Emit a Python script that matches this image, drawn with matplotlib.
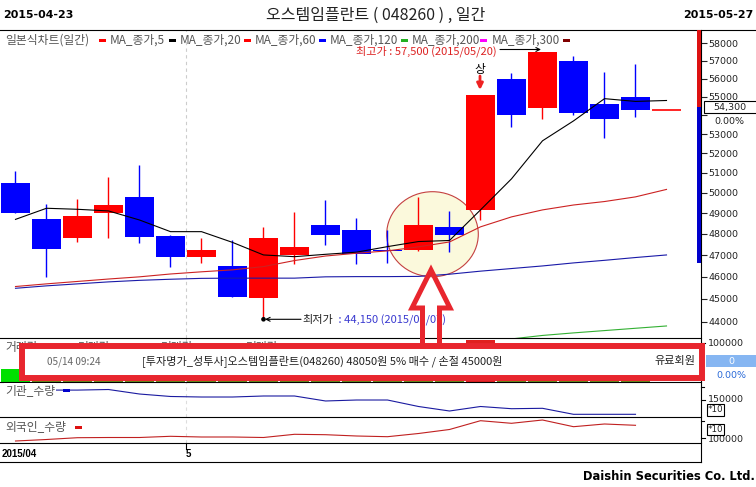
import numpy as np
import matplotlib
matplotlib.use('Agg')
import matplotlib.pyplot as plt
from matplotlib.patches import Rectangle, Ellipse, Polygon, FancyArrowPatch, Circle
from matplotlib.lines import Line2D
from matplotlib.transforms import Affine2D
from matplotlib.ticker import NullLocator

plt.rcParams['font.family'] = ['Noto Sans CJK KR', 'DejaVu Sans']

# ---------------- data ----------------
dates = ['04/23', '04/24', '04/27', '04/28', '04/29', '04/30', '05/04', '05/06', '05/07', '05/08', '05/11',
         '05/12', '05/13', '05/14', '05/15', '05/18', '05/19', '05/20', '05/21', '05/22', '05/26', '05/27']
opens = [50500, 48700, 47800, 49000, 49800, 47900, 46900, 46500, 45050, 47000, 48450,
         48200, 47250, 47250, 48350, 49150, 56000, 54400, 57000, 54600, 55000, 54300]
highs = [51100, 49450, 49700, 50800, 51400, 47950, 47800, 47700, 48350, 49050, 49650,
         48750, 48200, 49800, 49100, 55100, 56300, 57500, 57300, 56400, 56800, 54300]
lows = [49000, 46000, 47600, 47800, 47550, 46450, 46650, 45100, 44150, 46600, 47500,
        46600, 46650, 47200, 47150, 48650, 53400, 53800, 54000, 52800, 53900, 54300]
closes = [49000, 47300, 48850, 49400, 47850, 46900, 47250, 45100, 47800, 47400, 47950,
          47050, 47200, 48450, 47950, 55100, 54000, 57500, 54100, 53800, 54300, 54300]

ma5 = [48700, 49240, 49190, 49110, 48670, 48110, 48110, 47600, 47010, 46930, 47040,
       47140, 47400, 47640, 47690, 49160, 50700, 52650, 53700, 54900, 54750, 54800]
ma20 = [45560, 45680, 45790, 45900, 46000, 46130, 46230, 46320, 46470, 46750, 46960,
        47090, 47200, 47390, 47620, 48340, 48820, 49160, 49400, 49570, 49800, 50170]
ma60 = [45480, 45590, 45680, 45770, 45840, 45890, 45930, 45940, 45940, 45940, 46000,
        46010, 46010, 46020, 46120, 46260, 46380, 46500, 46640, 46760, 46890, 47010]
ma120 = [np.nan] * 15 + [43150, 43250, 43400, 43510, 43610, 43710, 43810]

volume = [33000, 70000, 45000, 50000, 55000, 40000, 35000, 60000, 75000, 40000, 45000,
          35000, 30000, 65000, 45000, 107700, 95000, 90000, 70000, 55000, 50000, 0]
inst_qty = [171000, 171000, 171000, 172300, 162100, 156500, 155300, 155300, 157600, 157600, 146300,
            148500, 148500, 133800, 123600, 133800, 128800, 129700, 116100, 116100, 116100, np.nan]
foreign_qty = [92600, 95600, 99200, 99600, 99600, 102000, 100600, 100600, 99600, 106000, 105200,
               102600, 101200, 107600, 115600, 133200, 128000, 134600, 121200, 126600, 124000, np.nan]

price_ticks = list(range(44000, 59000, 1000))
legend_items = ['일본식차트(일간)', 'MA_종가,5', 'MA_종가,20', 'MA_종가,60', 'MA_종가,120', 'MA_종가,200', 'MA_종가,300']
legend_colors = ['#ff0000', '#000000', '#ff0000', '#0000ff', '#22b022', '#ff00ff', '#800000']

# ---------------- figure ----------------
W, H = 756, 487
fig = plt.figure(figsize=(W / 100, H / 100), dpi=100)
fig.patch.set_facecolor('white')
T = Affine2D().scale(1 / W, -1 / H).translate(0, 1) + fig.transFigure


def ax_at(x0, y0, x1, y1):
    return fig.add_axes([x0 / W, 1 - y1 / H, (x1 - x0) / W, (y1 - y0) / H])


def ftext(x, y, s, **kw):
    kw.setdefault('va', 'center')
    return fig.text(x / W, 1 - y / H, s, **kw)


def fline(xs, ys, **kw):
    kw.setdefault('color', 'black')
    kw.setdefault('lw', 0.8)
    kw.setdefault('zorder', 4)
    fig.add_artist(Line2D(xs, ys, transform=T, **kw))


def frect(x, y, w, h, **kw):
    kw.setdefault('zorder', 5)
    fig.add_artist(Rectangle((x, y), w, h, transform=T, **kw))


x = np.arange(len(dates))
XLIM = (-0.5, 22.113)
RED, BLUE = '#ff0000', '#0000ff'

# ---------- price panel ----------
ax = ax_at(0, 30, 701, 338)
ax.set_facecolor('white')
ax.set_yscale('log')
ax.set_xlim(*XLIM)
ax.set_ylim(43290, 58772)
for s in ax.spines.values():
    s.set_visible(False)
ax.set_xticks([])
ax.yaxis.tick_right()
ax.yaxis.set_minor_locator(NullLocator())
ax.set_yticks(price_ticks)
ax.set_yticklabels(['' if t == 54000 else str(t) for t in price_ticks],
                   fontfamily='DejaVu Sans', fontsize=6.8, color='#222222')
ax.tick_params(axis='y', direction='out', length=4, width=0.8, pad=1.5, colors='#222222')
ax.yaxis.set_minor_formatter(plt.NullFormatter())

ax.axvline(5.5, color='#cccccc', lw=0.8, ls=(0, (3, 3)), zorder=0.5)
ax.add_patch(Ellipse((432.5, 234.2), 91.6, 85, transform=T, facecolor='#fbf9dc',
                     edgecolor='#c44040', lw=0.8, zorder=0.6))

cols = [RED if c >= o else BLUE for o, c in zip(opens, closes)]
ax.vlines(x, lows, highs, colors=cols, lw=1.0, zorder=2)
bottoms = [min(o, c) for o, c in zip(opens, closes)]
heights = [abs(c - o) for o, c in zip(opens, closes)]
ax.bar(x, heights, bottom=bottoms, width=0.94, color=cols, lw=0, zorder=2.1)
for i in x:
    if heights[i] == 0:
        ax.hlines(closes[i], i - 0.47, i + 0.47, colors=cols[i], lw=1.2, zorder=2.2)

ax.plot(x, ma5, color='black', lw=0.8, zorder=3)
ax.plot(x, ma20, color='#cc2222', lw=0.8, zorder=3)
ax.plot(x, ma60, color='#1a1aa8', lw=0.8, zorder=3)
ax.plot(x, ma120, color='#33b033', lw=0.8, zorder=3)

# ---------- volume panel ----------
axv = ax_at(0, 338, 701, 381.7)
axv.set_xlim(*XLIM)
axv.set_ylim(0, 112920)
axv.axis('off')
vcols = ['#00e000'] + ['#6b8a1c'] * (len(volume) - 1)
vcols[15] = '#e02020'
axv.bar(x, volume, width=0.94, color=vcols, lw=0)
axv.axvline(5.5, color='#cccccc', lw=0.8, ls=(0, (3, 3)), zorder=0.5)

# ---------- institution panel ----------
axi = ax_at(0, 381.7, 701, 417)
axi.set_xlim(*XLIM)
axi.set_ylim(110000, 190000)
axi.axis('off')
axi.plot(x, inst_qty, color='#1a1aa0', lw=0.8)
axi.axvline(5.5, color='#dddddd', lw=0.8, ls=(0, (3, 3)), zorder=0.5)

# ---------- foreigner panel ----------
axf = ax_at(0, 417, 701, 443)
axf.set_xlim(*XLIM)
axf.set_ylim(88600, 140600)
axf.axis('off')
axf.plot(x, foreign_qty, color='#c02020', lw=0.8)
axf.axvline(5.5, color='#dddddd', lw=0.8, ls=(0, (3, 3)), zorder=0.5)

# ---------- frame lines ----------
fline([0, 756], [30, 30])
for yy in [338, 381.7, 417, 443, 462]:
    fline([0, 701], [yy, yy])
fline([701, 701], [30, 462])
fline([185.5, 185.5], [443, 449])

# right axis colored bar
frect(697, 30, 4, 77, facecolor='#dd1111', lw=0, zorder=4.5)
frect(697, 107, 4, 156, facecolor='#0000cc', lw=0, zorder=4.5)

# current price box
frect(704, 100.7, 56, 12.6, facecolor='white', edgecolor='black', lw=0.8)
ftext(730, 107.2, '54,300', ha='center', fontsize=6.8, fontfamily='DejaVu Sans', color='#222', zorder=6)
ftext(729, 121, '0.00%', ha='center', fontsize=6.8, fontfamily='DejaVu Sans', color='#222', zorder=6)

# ---------- header ----------
ftext(3, 15, '2015-04-23', ha='left', fontsize=7.9, fontweight='bold', fontfamily='DejaVu Sans')
ftext(753, 15, '2015-05-27', ha='right', fontsize=7.9, fontweight='bold', fontfamily='DejaVu Sans')
ftext(376, 15, '오스템임플란트 ( 048260 ) , 일간', ha='center', fontsize=11.5, color='#222')

# legend row
leg_text_x = [5, 110, 180, 255, 330, 412, 492]
leg_mark_x = [99, 169, 244, 319, 401, 480, 563]
for tx, mx, lab, c in zip(leg_text_x, leg_mark_x, legend_items, legend_colors):
    ftext(tx, 40, lab, ha='left', fontsize=8.5, color='#555555', zorder=6)
    frect(mx, 38.5, 7, 3, facecolor=c, lw=0, zorder=6)

# highest / lowest annotations
ftext(356, 51, '최고가 : 57,500 (2015/05/20)', ha='left', fontsize=8, color='#dd2222', zorder=6)
fig.add_artist(FancyArrowPatch((500, 49.5), (541, 49.5), transform=T, arrowstyle='->',
                               mutation_scale=7, lw=0.8, color='black', shrinkA=0, shrinkB=0, zorder=6))
ftext(480, 69, '상', ha='center', fontsize=8.5, color='black', zorder=6)
fig.add_artist(FancyArrowPatch((480, 76), (480, 90), transform=T, arrowstyle='-|>',
                               mutation_scale=9, lw=2.0, color='#ee2222', shrinkA=0, shrinkB=0, zorder=6))

ftext(302, 320, '최저가', ha='left', fontsize=8, color='#222222', zorder=6)
ftext(336, 320, ' : 44,150 (2015/05/07)', ha='left', fontsize=8, color='#3a3ad0', zorder=6)
fig.add_artist(FancyArrowPatch((301, 319.3), (265, 319.3), transform=T, arrowstyle='->',
                               mutation_scale=7, lw=0.8, color='black', shrinkA=0, shrinkB=0, zorder=6))
fig.add_artist(Circle((263.5, 319.3), 1.6, transform=T, color='black', zorder=6))

# volume panel labels (mostly hidden)
for lx in [5, 77, 160, 245]:
    ftext(lx, 347, '거래량', ha='left', fontsize=8.5, color='#555555', zorder=4)

# lower panel labels
ftext(5, 390.5, '기관_수량', ha='left', fontsize=8.5, color='#555555', zorder=6,
      bbox=dict(facecolor='white', edgecolor='none', pad=0.5))
frect(63, 389, 7, 3, facecolor='#0000cc', lw=0, zorder=6)
ftext(5, 427, '외국인_수량', ha='left', fontsize=8.5, color='#555555', zorder=6)
frect(75, 425.5, 7, 3, facecolor='#dd1111', lw=0, zorder=6)

# right side labels of lower panels
fline([701, 705], [343, 343])
ftext(708, 344, '100000', ha='left', fontsize=6.8, fontfamily='DejaVu Sans', color='#222')
frect(706, 355, 50, 12, facecolor='#86b6f2', lw=0)
ftext(731, 361, '0', ha='center', fontsize=6.8, fontfamily='DejaVu Sans', color='white', zorder=6)
ftext(731, 375, '0.00%', ha='center', fontsize=6.8, fontfamily='DejaVu Sans', color='#2a6ad8', zorder=6)

fline([701, 705], [400, 400])
fline([701, 704], [387, 387])
ftext(708, 399.5, '150000', ha='left', fontsize=6.8, fontfamily='DejaVu Sans', color='#222')
frect(707, 404, 17, 11.5, facecolor='white', edgecolor='black', lw=0.8, zorder=6)
ftext(715.5, 410, '*10', ha='center', fontsize=6.3, fontfamily='DejaVu Sans', color='#222', zorder=7)

fline([701, 705], [438, 438])
fline([701, 704], [420.7, 420.7])
ftext(708, 439.5, '100000', ha='left', fontsize=6.8, fontfamily='DejaVu Sans', color='#222')
frect(707, 423.5, 17, 11.5, facecolor='white', edgecolor='black', lw=0.8, zorder=6)
ftext(715.5, 429.3, '*10', ha='center', fontsize=6.3, fontfamily='DejaVu Sans', color='#222', zorder=7)

# date axis
ftext(2, 454, '2015/04', ha='left', fontsize=7, fontweight='bold', fontfamily='Liberation Sans')
ftext(186, 454, '5', ha='left', fontsize=7, fontweight='bold', fontfamily='Liberation Sans')

# footer
ftext(755, 476, 'Daishin Securities Co. Ltd.', ha='right', fontsize=8.3, fontweight='bold',
      fontfamily='DejaVu Sans')

# ---------- overlaid signal box and arrow ----------
BOXRED = '#e8262e'
frect(21.7, 345.5, 680, 32.3, facecolor='white', edgecolor=BOXRED, lw=4.3, zorder=8)
fig.add_artist(Polygon([(431, 270), (450, 308), (439.5, 308), (439.5, 346), (422.5, 346),
                        (422.5, 308), (412, 308)], closed=True, transform=T, fill=False,
                       edgecolor=BOXRED, lw=3.6, joinstyle='miter', zorder=8))
ftext(47, 362, '05/14 09:24', ha='left', fontsize=7.2, color='#666666', zorder=9)
ftext(142, 361, '[투자명가_성투사]오스템임플란트(048260) 48050원 5% 매수 / 손절 45000원',
      ha='left', fontsize=8, color='#222222', zorder=9)
ftext(695, 361, '유료회원', ha='right', fontsize=8, color='#222222', zorder=9)

fig.savefig('out.png', dpi=100)
